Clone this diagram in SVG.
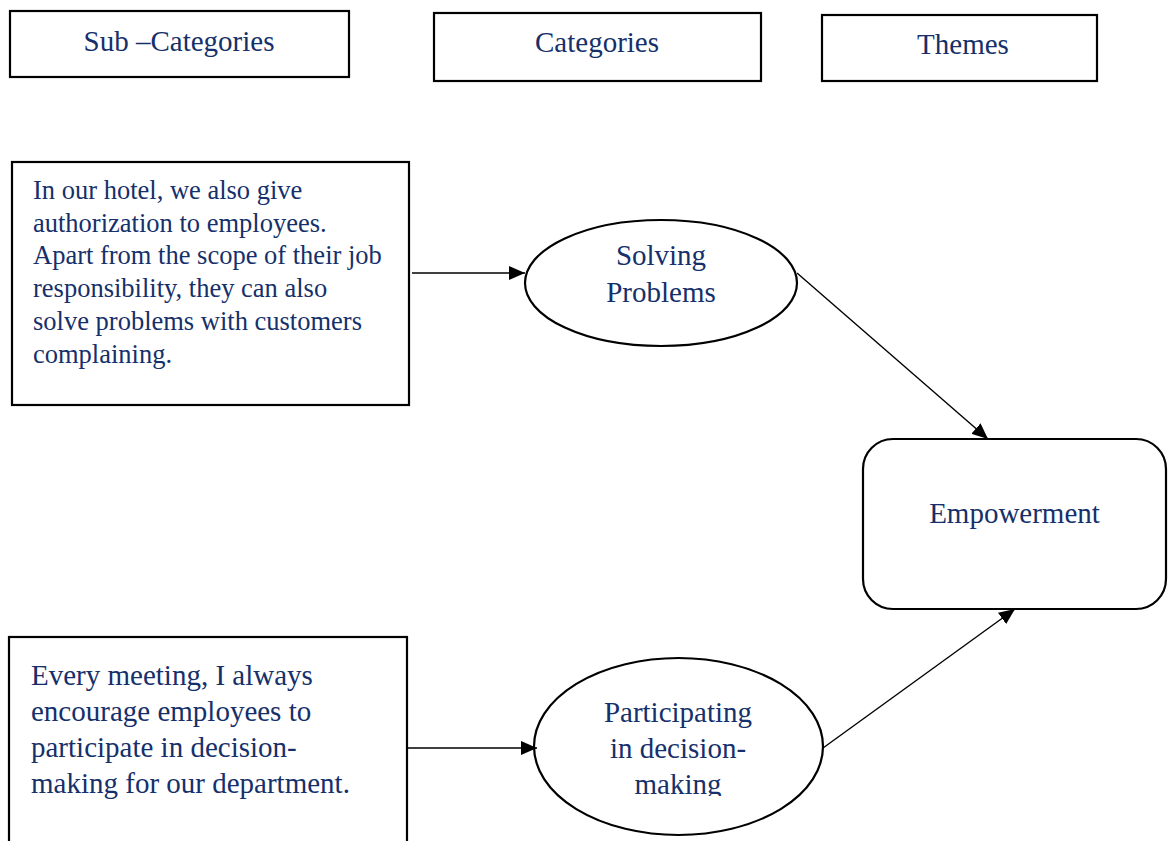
<svg xmlns="http://www.w3.org/2000/svg" width="1168" height="841" viewBox="0 0 1168 841">
<defs>
<style>
.box{fill:#fff;stroke:#000;stroke-width:2.2}
.t{font-family:"Liberation Serif","Times New Roman",serif;fill:#15306a}
.h{font-size:29px;text-anchor:middle}
.b1{font-size:26.5px}
.b2{font-size:29px}
.c{font-size:29px;text-anchor:middle}
.con{stroke:#000;stroke-width:1.4;fill:none}
</style>
<marker id="ah" markerUnits="userSpaceOnUse" markerWidth="16" markerHeight="14" refX="16" refY="7" orient="auto">
<path d="M0,0 L16,7 L0,14 Z" fill="#000"/>
</marker>
<clipPath id="clipMaking"><rect x="530" y="650" width="300" height="146"/></clipPath>
</defs>
<rect width="1168" height="841" fill="#fff"/>

<g id="hdr-sub">
<rect class="box" x="10" y="11" width="339" height="66"/>
<text class="t h" x="179" y="51">Sub –Categories</text>
</g>
<g id="hdr-cat">
<rect class="box" x="434" y="13" width="327" height="68"/>
<text class="t h" x="597" y="52">Categories</text>
</g>
<g id="hdr-theme">
<rect class="box" x="822" y="15" width="275" height="66"/>
<text class="t h" x="963" y="54">Themes</text>
</g>

<g id="sub1">
<rect class="box" x="12" y="162" width="397" height="243"/>
<text class="t b1" x="33" y="199">In our hotel, we also give</text>
<text class="t b1" x="33" y="232">authorization to employees.</text>
<text class="t b1" x="33" y="264">Apart from the scope of their job</text>
<text class="t b1" x="33" y="297">responsibility, they can also</text>
<text class="t b1" x="33" y="330">solve problems with customers</text>
<text class="t b1" x="33" y="363">complaining.</text>
</g>

<g id="cat1">
<ellipse class="box" cx="661" cy="283" rx="136" ry="63"/>
<text class="t c" x="661" y="265">Solving</text>
<text class="t c" x="661" y="302">Problems</text>
</g>

<g id="sub2">
<rect class="box" x="9" y="637" width="398" height="230"/>
<text class="t b2" x="31" y="685">Every meeting, I always</text>
<text class="t b2" x="31" y="721">encourage employees to</text>
<text class="t b2" x="31" y="757">participate in decision-</text>
<text class="t b2" x="31" y="793">making for our department.</text>
</g>

<g id="cat2">
<ellipse class="box" cx="678.5" cy="746.5" rx="144.5" ry="88.5"/>
<text class="t c" x="678" y="722">Participating</text>
<text class="t c" x="678" y="758">in decision-</text>
<text class="t c" x="678" y="794" clip-path="url(#clipMaking)">making</text>
</g>

<g id="theme">
<rect class="box" x="863" y="439" width="303" height="170" rx="30" ry="30"/>
<text class="t c" x="1014.5" y="523">Empowerment</text>
</g>

<g id="connectors">
<line class="con" x1="412" y1="273" x2="525" y2="273" marker-end="url(#ah)"/>
<line class="con" x1="407" y1="748" x2="537" y2="748" marker-end="url(#ah)"/>
<line class="con" x1="797" y1="273" x2="988" y2="439" marker-end="url(#ah)"/>
<line class="con" x1="823" y1="748" x2="1015" y2="609" marker-end="url(#ah)"/>
</g>
</svg>
